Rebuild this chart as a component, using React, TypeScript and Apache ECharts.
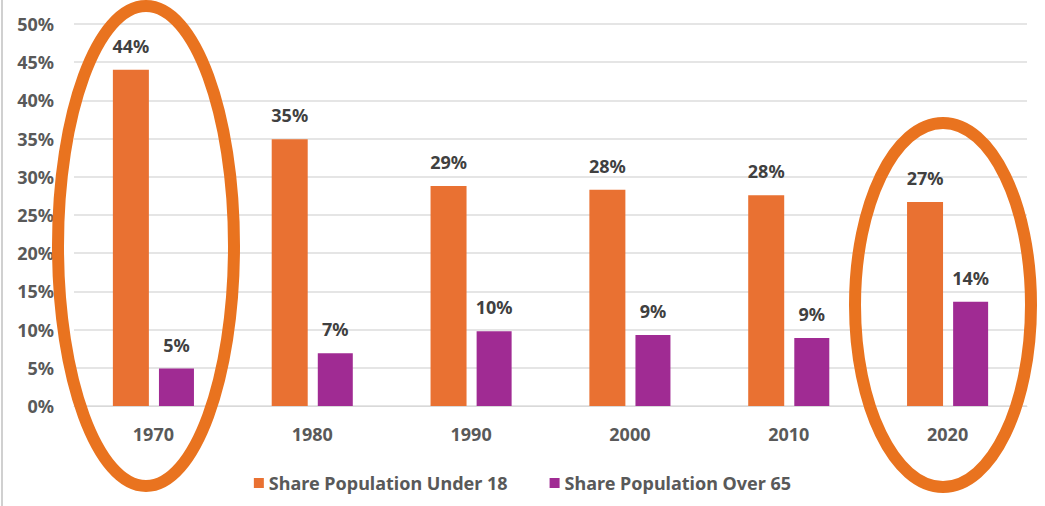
import React, { useEffect, useRef } from "react";
import * as echarts from "echarts";

const categories = ["1970", "1980", "1990", "2000", "2010", "2020"];
const under18 = [44.0, 34.9, 28.8, 28.3, 27.6, 26.7];
const over65 = [4.9, 6.9, 9.8, 9.3, 8.9, 13.65];
const seriesNames = ["Share Population Under 18", "Share Population Over 65"];

const ORANGE = "#E97132";
const PURPLE = "#A02B93";
const FONT = "'Noto Sans', 'Liberation Sans', sans-serif";

export default function App() {
  const ref = useRef<HTMLDivElement>(null);
  useEffect(() => {
    const chart = echarts.init(ref.current!, null, { renderer: "svg" });
    const label = {
      show: true,
      position: "top",
      distance: 15,
      formatter: (p: any) => Math.round(p.value) + "%",
      color: "#404040",
      fontFamily: FONT,
      fontWeight: "bold",
      fontSize: 18,
    };
    chart.setOption({
      animation: false,
      backgroundColor: "#ffffff",
      grid: { left: 74, right: 18, top: 24, bottom: 100, containLabel: false },
      legend: {
        bottom: 9,
        left: "center",
        itemWidth: 10,
        itemHeight: 10,
        itemGap: 42,
        icon: "rect",
        textStyle: { color: "#595959", fontFamily: FONT, fontWeight: "bold", fontSize: 18 },
        data: seriesNames,
      },
      xAxis: {
        type: "category",
        data: categories,
        axisLine: { show: true, lineStyle: { color: "#d9d9d9" } },
        axisTick: { show: false },
        axisLabel: { color: "#595959", fontFamily: FONT, fontWeight: "bold", fontSize: 18, margin: 19 },
      },
      yAxis: {
        type: "value",
        min: 0,
        max: 50,
        interval: 5,
        axisLine: { show: false },
        axisTick: { show: false },
        splitLine: { lineStyle: { color: "#dcdcdc", width: 1.5 } },
        axisLabel: {
          formatter: "{value}%",
          color: "#595959",
          fontFamily: FONT,
          fontWeight: "bold",
          fontSize: 18,
          margin: 20,
        },
      },
      series: [
        {
          name: seriesNames[0],
          type: "bar",
          data: under18,
          barWidth: 36,
          barGap: "28%",
          itemStyle: { color: ORANGE },
          label,
        },
        {
          name: seriesNames[1],
          type: "bar",
          data: over65,
          barWidth: 35,
          itemStyle: { color: PURPLE },
          label,
        },
      ],
      graphic: [
        {
          type: "line",
          shape: { x1: 2, y1: 0, x2: 2, y2: 506 },
          style: { stroke: "#d0d0d0", lineWidth: 2 },
          silent: true,
        },
        {
          type: "ellipse",
          shape: { cx: 146, cy: 246, rx: 88, ry: 240 },
          style: { fill: "none", stroke: "#E9731F", lineWidth: 12 },
          z: 100,
          silent: true,
        },
        {
          type: "ellipse",
          shape: { cx: 943, cy: 305, rx: 88, ry: 182 },
          style: { fill: "none", stroke: "#E9731F", lineWidth: 12 },
          z: 100,
          silent: true,
        },
      ],
    });
    return () => chart.dispose();
  }, []);
  return (
    <div
      ref={ref}
      style={{ position: "fixed", left: 0, top: 0, width: 1045, height: 506 }}
    />
  );
}
